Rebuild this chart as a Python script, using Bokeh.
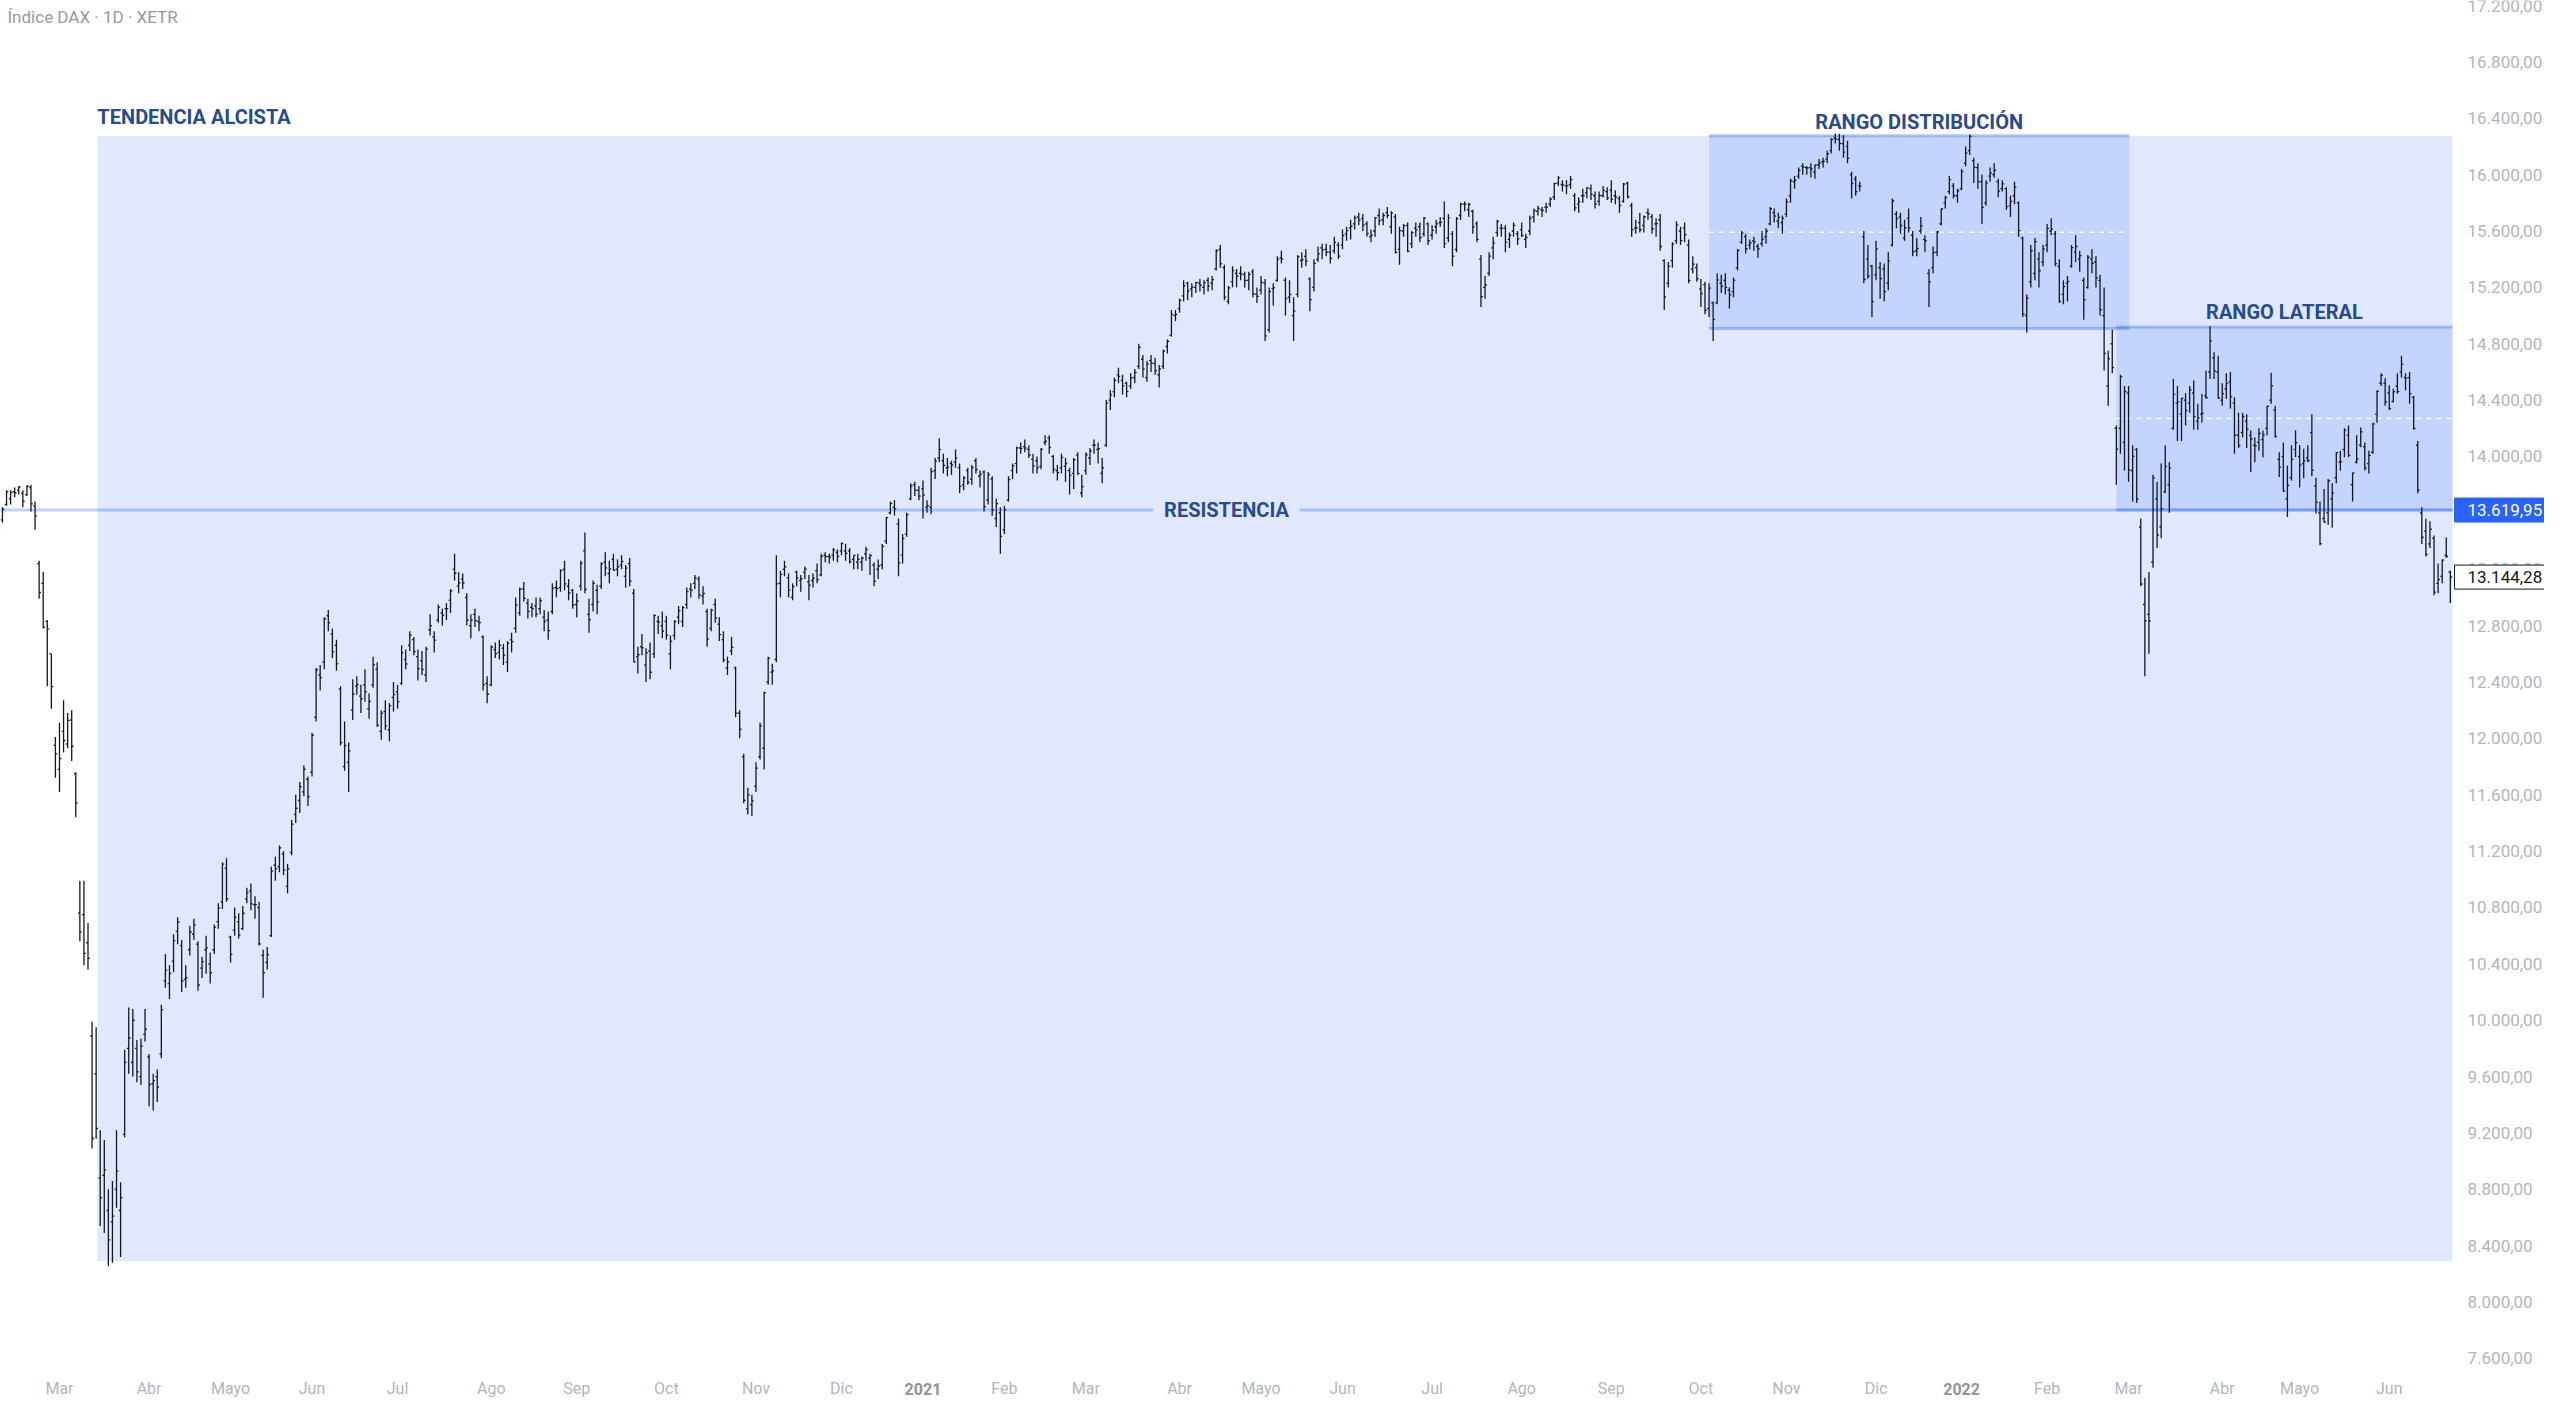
from bokeh.plotting import figure
from bokeh.models import ColumnDataSource, Range1d
from bokeh.core.properties import value
from bokeh.embed import file_html
from bokeh.resources import INLINE

# ---------------- DATA (Indice DAX, daily bars, XETR) ----------------
month_labels = ["Feb", "Mar", "Abr", "Mayo", "Jun", "Jul", "Ago", "Sep", "Oct", "Nov", "Dic",
                "2021", "Feb", "Mar", "Abr", "Mayo", "Jun", "Jul", "Ago", "Sep", "Oct", "Nov", "Dic",
                "2022", "Feb", "Mar", "Abr", "Mayo", "Jun"]
month_bars = [15, 22, 20, 20, 21, 23, 21, 22, 22, 21, 20,
              20, 20, 23, 20, 20, 22, 22, 22, 22, 21, 22, 21,
              21, 20, 23, 19, 22, 16]

open_ = [
    13470, 13550, 13660, 13700, 13750, 13760, 13740, 13730, 13780, 13650, 13240, 13100, 12830, 12600, 11950,
    11780, 12050, 11960, 12130, 11750, 10760, 10750, 10550, 9890, 9620, 8880, 8900, 8650, 8570, 8800, 8650, 9190, 9800, 9700, 9800, 9600, 9900,
    9740, 9550, 9600, 9760, 10280, 10260, 10420, 10630, 10530, 10290, 10500, 10610, 10540, 10370, 10500, 10400, 10500, 10700, 10840, 11080,
    10590, 10640, 10700, 10650, 10860, 10920, 10820, 10800, 10460, 10410, 10600, 11100, 11090, 11180, 10950, 11190, 11460, 11560, 11620, 11710,
    11760, 12150, 12450, 12540, 12870, 12740, 12660, 12350, 11800, 11830, 12200, 12370, 12300, 12380, 12210, 12380, 12490, 12050, 12190, 12060, 12290,
    12330, 12390, 12560, 12660, 12700, 12580, 12550, 12450, 12770, 12720, 12840, 12890, 12920, 12980, 13200, 13080, 13130, 13000, 12800, 12880, 12830, 12720, 12390,
    12380, 12630, 12610, 12640, 12540, 12700, 12780, 12890, 13060, 12960, 12930, 12940, 12920, 12860, 12840, 12900, 13070, 13070, 13200, 13080, 13050,
    12950, 13080, 13330, 12880, 12950, 13050, 13080, 13250, 13170, 13270, 13200, 13230, 13150, 13240, 13030, 12580, 12650, 12520, 12620, 12600, 12830, 12800,
    12830, 12600, 12730, 12860, 12830, 12950, 13060, 13100, 13130, 13010, 12900, 12780, 12950, 12810, 12700, 12500, 12620, 12500, 12180, 11870, 11500, 11530,
    11660, 11870, 11930, 12400, 12470, 12560, 13100, 13200, 13140, 13000, 13180, 13120, 13180, 13110, 13120, 13190, 13160, 13300, 13290, 13300, 13320,
    13330, 13330, 13330, 13270, 13250, 13250, 13310, 13280, 13230, 13200, 13230, 13400, 13600, 13640, 13520, 13300, 13450, 13700, 13800, 13760,
    13770, 13640, 13640, 13900, 13990, 13970, 13920, 13950, 13960, 13920, 13800, 13900, 13840, 13970, 13860, 13890, 13690, 13840, 13560, 13600,
    13480, 13690, 13900, 13950, 14060, 14070, 14050, 13980, 13970, 13930, 14100, 14130, 14000, 13900, 13920, 13930, 13900, 13880, 14010, 13740,
    13900, 13990, 14080, 14050, 13880, 14080, 14400, 14460, 14580, 14540, 14520, 14500, 14560, 14640, 14690, 14560, 14680, 14660, 14580, 14640, 14780, 14860, 15000,
    15050, 15140, 15230, 15190, 15200, 15230, 15200, 15250, 15230, 15330, 15470, 15340, 15100, 15240, 15300, 15300, 15290, 15250, 15310, 15150,
    15180, 15230, 14900, 15190, 15250, 15410, 15250, 15130, 15000, 15150, 15390, 15420, 15260, 15200, 15400, 15480, 15470, 15450, 15460, 15500,
    15500, 15580, 15620, 15650, 15700, 15690, 15650, 15560, 15600, 15710, 15680, 15730, 15630, 15700, 15470, 15600, 15640, 15510, 15620, 15630, 15580, 15650,
    15570, 15630, 15660, 15690, 15550, 15580, 15470, 15710, 15790, 15750, 15740, 15650, 15400, 15200, 15300, 15480, 15590, 15620, 15620, 15540, 15600, 15580,
    15610, 15540, 15600, 15700, 15740, 15750, 15770, 15790, 15840, 15940, 15930, 15920, 15930, 15850, 15790, 15850, 15870, 15900, 15850, 15810, 15850, 15880,
    15890, 15850, 15830, 15810, 15940, 15780, 15620, 15660, 15640, 15730, 15700, 15650, 15680, 15390, 15230, 15390, 15530, 15600, 15620, 15500, 15330, 15340,
    15190, 15220, 15050, 15090, 15090, 15230, 15250, 15180, 15170, 15340, 15520, 15560, 15500, 15530, 15490, 15510, 15560, 15650, 15730, 15670, 15660,
    15720, 15850, 15950, 15990, 16060, 16050, 16050, 16020, 16070, 16090, 16110, 16170, 16260, 16250, 16220, 16200, 16000, 15970, 15920, 15560, 15400, 15350,
    15290, 15340, 15330, 15230, 15500, 15720, 15700, 15550, 15690, 15570, 15460, 15600, 15540, 15300, 15340, 15450, 15650, 15800, 15880, 15920, 15850,
    15900, 16080, 16170, 16100, 16050, 15950, 15800, 15990, 16000, 15950, 15900, 15900, 15780, 15850, 15800, 15550, 15000, 15240, 15300, 15400, 15380,
    15500, 15600, 15580, 15350, 15150, 15230, 15350, 15450, 15400, 15250, 15200, 15400, 15380, 15250, 15000, 14500, 14800, 14200, 14200, 14100,
    14450, 13900, 14050, 13500, 12950, 12880, 13250, 13700, 13500, 13750, 13800, 14200, 14380, 14300, 14400, 14380, 14450, 14250, 14300, 14430, 14600, 14700, 14600,
    14400, 14480, 14530, 14380, 14150, 14170, 14250, 14150, 14080, 14100, 14120, 14200, 14400, 14330, 13980, 14000, 13700, 13850, 14050,
    14000, 13950, 13990, 14170, 13790, 13600, 13560, 13600, 13700, 13850, 13960, 14050, 14150, 13800, 13960, 14080, 14070, 13950, 14030, 14300, 14520, 14520,
    14450, 14390, 14500, 14600, 14560, 14560, 14420, 14080, 13600, 13470, 13380, 13420, 13100, 13150, 13300, 13180,
]

high = [
    13520, 13640, 13760, 13760, 13780, 13790, 13760, 13795, 13800, 13680, 13260, 13180, 12840, 12600, 12010,
    12110, 12270, 12180, 12200, 11760, 10990, 10990, 10690, 9990, 9950, 9220, 9150, 8800, 8860, 9220, 8850, 9790, 10090, 10080, 9860, 9870, 10080,
    9760, 9620, 9650, 10110, 10470, 10390, 10610, 10730, 10570, 10390, 10670, 10720, 10560, 10450, 10600, 10480, 10680, 10830, 11120, 11150,
    10600, 10800, 10760, 10810, 10940, 10970, 10880, 10840, 10500, 10520, 11090, 11160, 11240, 11200, 11110, 11420, 11600, 11690, 11810, 11730,
    12040, 12500, 12520, 12860, 12910, 12780, 12700, 12370, 12120, 11970, 12420, 12440, 12380, 12490, 12320, 12580, 12540, 12200, 12270, 12250, 12400,
    12380, 12660, 12630, 12760, 12720, 12630, 12620, 12650, 12880, 12760, 12950, 12920, 12960, 13060, 13310, 13180, 13170, 13030, 12880, 12920, 12870, 12730, 12440,
    12660, 12680, 12700, 12670, 12690, 12750, 13000, 13070, 13110, 12990, 12960, 13000, 13000, 12910, 12900, 13100, 13120, 13200, 13260, 13130, 13060,
    13030, 13260, 13460, 12990, 13120, 13090, 13250, 13320, 13260, 13310, 13270, 13300, 13230, 13280, 13060, 12650, 12740, 12640, 12680, 12880, 12870, 12900,
    12870, 12730, 12840, 12940, 12940, 13070, 13100, 13160, 13150, 13080, 12920, 12920, 12990, 12860, 12760, 12580, 12720, 12510, 12200, 11890, 11650, 11600,
    11830, 12110, 12330, 12580, 12530, 13300, 13190, 13260, 13170, 13100, 13190, 13160, 13220, 13160, 13170, 13240, 13310, 13320, 13310, 13350, 13340,
    13390, 13380, 13350, 13300, 13310, 13290, 13360, 13310, 13250, 13270, 13380, 13570, 13680, 13690, 13560, 13450, 13600, 13810, 13820, 13790,
    13830, 13690, 13920, 13990, 14130, 14020, 13990, 13970, 14050, 13950, 13860, 13920, 13940, 13990, 13900, 13900, 13890, 13860, 13700, 13640,
    13650, 13860, 13950, 14070, 14100, 14120, 14080, 14020, 14000, 14060, 14150, 14150, 14010, 13940, 14020, 13990, 13920, 13990, 14030, 13870,
    14030, 14060, 14120, 14100, 13990, 14400, 14470, 14560, 14630, 14580, 14530, 14590, 14620, 14800, 14720, 14680, 14720, 14700, 14650, 14760, 14830, 15040, 15040,
    15120, 15250, 15240, 15230, 15240, 15260, 15250, 15270, 15280, 15470, 15500, 15360, 15210, 15350, 15330, 15350, 15310, 15310, 15330, 15200,
    15280, 15260, 15200, 15230, 15420, 15460, 15270, 15250, 15130, 15430, 15450, 15470, 15270, 15400, 15490, 15510, 15510, 15500, 15560, 15520,
    15610, 15630, 15680, 15710, 15730, 15720, 15670, 15610, 15700, 15760, 15730, 15770, 15740, 15720, 15630, 15650, 15660, 15600, 15660, 15660, 15700, 15660,
    15640, 15680, 15700, 15810, 15720, 15600, 15700, 15800, 15810, 15800, 15750, 15670, 15430, 15280, 15450, 15560, 15680, 15650, 15640, 15590, 15660, 15600,
    15660, 15580, 15710, 15760, 15780, 15770, 15800, 15840, 15940, 15990, 15960, 15960, 15990, 15870, 15840, 15900, 15910, 15930, 15880, 15880, 15920, 15910,
    15960, 15890, 15850, 15940, 15950, 15800, 15680, 15730, 15710, 15760, 15720, 15690, 15720, 15400, 15380, 15520, 15670, 15630, 15660, 15540, 15420, 15370,
    15260, 15240, 15230, 15100, 15300, 15290, 15300, 15200, 15270, 15470, 15600, 15580, 15540, 15560, 15510, 15600, 15620, 15770, 15760, 15730, 15710,
    15830, 15970, 15990, 16050, 16080, 16060, 16080, 16070, 16110, 16120, 16170, 16260, 16290, 16290, 16280, 16240, 16020, 15990, 15950, 15600, 15500, 15360,
    15530, 15380, 15370, 15450, 15830, 15740, 15730, 15680, 15760, 15600, 15550, 15700, 15570, 15330, 15490, 15600, 15760, 15850, 15990, 15940, 15900,
    16040, 16200, 16285, 16120, 16080, 16000, 15960, 16050, 16080, 15970, 15960, 15910, 15850, 15950, 15810, 15560, 15150, 15500, 15550, 15450, 15500,
    15650, 15690, 15600, 15400, 15250, 15280, 15500, 15570, 15460, 15270, 15430, 15470, 15420, 15290, 15200, 14750, 14900, 14220, 14580, 14500,
    14500, 14080, 14060, 13560, 13140, 13180, 13870, 13820, 13950, 14080, 13960, 14550, 14500, 14415, 14450, 14500, 14540, 14375, 14445, 14610, 14925, 14740, 14715,
    14520, 14590, 14600, 14420, 14310, 14310, 14300, 14185, 14135, 14200, 14185, 14360, 14595, 14360, 14030, 14100, 13935, 14080, 14185,
    14080, 14055, 14080, 14300, 13850, 13680, 13770, 13840, 13810, 14030, 14040, 14200, 14220, 13885, 14150, 14205, 14100, 14040, 14240, 14470, 14590, 14555,
    14505, 14480, 14590, 14715, 14590, 14600, 14430, 14110, 13640, 13560, 13540, 13440, 13240, 13270, 13425, 13190,
]

low = [
    13420, 13530, 13650, 13660, 13710, 13730, 13640, 13720, 13610, 13480, 12990, 12780, 12370, 12210, 11720,
    11620, 11900, 11930, 11840, 11440, 10560, 10390, 10360, 9090, 9160, 8540, 8490, 8256, 8280, 8670, 8320, 9170, 9620, 9600, 9560, 9540, 9850,
    9390, 9360, 9420, 9730, 10230, 10150, 10340, 10540, 10200, 10230, 10460, 10570, 10210, 10300, 10330, 10260, 10470, 10650, 10790, 10840,
    10410, 10600, 10580, 10640, 10830, 10780, 10720, 10530, 10160, 10360, 10590, 10990, 11050, 11030, 10900, 11170, 11400, 11470, 11590, 11520,
    11730, 12120, 12340, 12490, 12760, 12570, 12480, 11950, 11770, 11620, 12130, 12310, 12180, 12260, 12140, 12360, 12080, 11990, 12060, 11980, 12190,
    12210, 12380, 12490, 12620, 12590, 12410, 12450, 12400, 12730, 12610, 12820, 12800, 12840, 12890, 13120, 13030, 13060, 12800, 12710, 12790, 12760, 12340, 12250,
    12370, 12570, 12560, 12520, 12470, 12610, 12750, 12870, 12970, 12850, 12860, 12860, 12880, 12760, 12700, 12880, 13000, 13040, 13050, 12980, 12920,
    12860, 13050, 13030, 12750, 12900, 12880, 13060, 13150, 13100, 13190, 13150, 13200, 13070, 13080, 12540, 12460, 12590, 12400, 12420, 12570, 12740, 12710,
    12700, 12490, 12700, 12810, 12790, 12920, 13000, 13060, 12990, 12950, 12650, 12760, 12820, 12690, 12540, 12450, 12590, 12150, 12000, 11540, 11460, 11450,
    11620, 11850, 11780, 12380, 12380, 12540, 13000, 13150, 13000, 12980, 13080, 13040, 13130, 12980, 13070, 13100, 13150, 13250, 13240, 13260, 13250,
    13300, 13260, 13240, 13200, 13200, 13190, 13260, 13160, 13080, 13130, 13200, 13380, 13590, 13580, 13150, 13240, 13430, 13690, 13720, 13690,
    13560, 13600, 13590, 13840, 13960, 13880, 13860, 13870, 13920, 13740, 13760, 13800, 13800, 13880, 13780, 13610, 13660, 13580, 13500, 13310,
    13450, 13680, 13840, 13880, 14020, 14030, 13990, 13880, 13880, 13910, 14080, 14020, 13880, 13830, 13880, 13820, 13730, 13770, 13870, 13710,
    13870, 13940, 14020, 13950, 13810, 14070, 14330, 14420, 14520, 14440, 14420, 14480, 14520, 14620, 14560, 14530, 14600, 14580, 14490, 14620, 14730, 14850, 14960,
    15020, 15100, 15110, 15130, 15160, 15170, 15150, 15170, 15180, 15320, 15340, 15110, 15080, 15200, 15200, 15250, 15200, 15180, 15130, 15090,
    15150, 14820, 14880, 15070, 15240, 15370, 15000, 15090, 14820, 15130, 15340, 15350, 15030, 15170, 15380, 15400, 15420, 15370, 15440, 15400,
    15470, 15530, 15540, 15610, 15640, 15600, 15560, 15520, 15560, 15640, 15640, 15690, 15580, 15440, 15360, 15560, 15450, 15480, 15560, 15520, 15560, 15500,
    15540, 15580, 15630, 15480, 15520, 15350, 15450, 15680, 15740, 15700, 15580, 15520, 15060, 15120, 15280, 15400, 15560, 15560, 15450, 15480, 15560, 15500,
    15560, 15480, 15570, 15660, 15710, 15700, 15730, 15770, 15820, 15920, 15880, 15860, 15900, 15740, 15730, 15800, 15830, 15820, 15760, 15780, 15840, 15820,
    15800, 15790, 15730, 15800, 15830, 15560, 15580, 15590, 15590, 15680, 15580, 15560, 15460, 15040, 15200, 15340, 15510, 15500, 15520, 15230, 15300, 15240,
    15060, 15010, 14990, 14820, 15080, 15160, 15150, 15050, 15130, 15320, 15510, 15440, 15470, 15460, 15410, 15490, 15510, 15640, 15660, 15620, 15580,
    15700, 15800, 15900, 15970, 16000, 16000, 15980, 15970, 16040, 16050, 16080, 16150, 16220, 16170, 16120, 16080, 15830, 15850, 15880, 15230, 15260, 14990,
    15250, 15120, 15100, 15180, 15490, 15620, 15580, 15530, 15590, 15420, 15420, 15580, 15450, 15060, 15300, 15420, 15640, 15760, 15860, 15830, 15800,
    15890, 16060, 16140, 15940, 15900, 15650, 15780, 15950, 15980, 15840, 15880, 15750, 15700, 15790, 15560, 14990, 14880, 15200, 15250, 15200, 15350,
    15450, 15570, 15350, 15090, 15080, 15100, 15340, 15380, 15310, 14970, 15190, 15300, 15200, 15000, 14610, 14360, 14590, 13800, 14020, 13900,
    13820, 13680, 13670, 13080, 12440, 12600, 13210, 13350, 13420, 13740, 13600, 14190, 14110, 14110, 14220, 14310, 14190, 14190, 14240, 14410, 14550, 14550, 14410,
    14360, 14410, 14340, 14020, 14060, 14135, 14060, 13890, 13960, 14040, 13995, 14150, 14375, 14135, 13855, 13750, 13570, 13830, 13995,
    13780, 13845, 13960, 13860, 13595, 13370, 13530, 13515, 13495, 13810, 13900, 13995, 13995, 13680, 13950, 14065, 13900, 13880, 14020, 14240, 14500, 14360,
    14330, 14385, 14445, 14560, 14470, 14375, 14190, 13740, 13380, 13290, 13350, 13015, 13030, 13100, 13280, 12960,
]

close = [
    13494, 13627, 13749, 13745, 13744, 13783, 13681, 13789, 13664, 13579, 13035, 12790, 12775, 12367, 11890,
    11857, 11985, 12128, 11944, 11541, 10625, 10475, 10439, 9161, 9232, 8742, 8939, 8441, 8610, 8929, 8741, 9701, 9874, 10000, 9633, 9816, 9936,
    9544, 9571, 9525, 10075, 10356, 10333, 10565, 10697, 10280, 10302, 10626, 10676, 10250, 10416, 10514, 10337, 10659, 10796, 11108, 10862,
    10467, 10730, 10606, 10759, 10905, 10825, 10820, 10542, 10337, 10465, 11058, 11075, 11223, 11065, 11074, 11391, 11504, 11657, 11781, 11587,
    12021, 12487, 12431, 12848, 12820, 12615, 12530, 11970, 11949, 11911, 12315, 12382, 12281, 12331, 12262, 12523, 12093, 12178, 12089, 12232, 12311,
    12260, 12608, 12528, 12733, 12616, 12494, 12489, 12633, 12800, 12697, 12931, 12874, 12920, 13046, 13171, 13104, 13103, 12838, 12839, 12835, 12822, 12379, 12313,
    12647, 12600, 12660, 12591, 12674, 12687, 12946, 13058, 12993, 12901, 12920, 12882, 12977, 12830, 12764, 13066, 13062, 13190, 13096, 13033, 12945,
    12974, 13243, 13057, 12842, 13100, 12968, 13237, 13209, 13202, 13194, 13218, 13255, 13208, 13116, 12542, 12594, 12643, 12606, 12469, 12871, 12825, 12761,
    12731, 12689, 12828, 12906, 12928, 13042, 13051, 13138, 13018, 13028, 12704, 12909, 12854, 12736, 12558, 12543, 12646, 12178, 12064, 11561, 11598, 11556,
    11789, 12089, 12324, 12568, 12480, 13096, 13164, 13217, 13052, 13077, 13139, 13133, 13202, 13087, 13137, 13127, 13292, 13290, 13286, 13336, 13291,
    13382, 13313, 13253, 13299, 13271, 13278, 13340, 13296, 13114, 13223, 13362, 13566, 13667, 13630, 13246, 13418, 13587, 13790, 13761, 13719,
    13727, 13651, 13892, 13968, 14050, 13937, 13925, 13940, 13989, 13788, 13848, 13816, 13922, 13907, 13874, 13644, 13871, 13620, 13666, 13433,
    13623, 13836, 13934, 14061, 14057, 14060, 14011, 13933, 13921, 14050, 14109, 14064, 13909, 13886, 13993, 13950, 13865, 13976, 13879, 13786,
    14012, 14039, 14080, 14056, 13920, 14380, 14437, 14540, 14569, 14502, 14461, 14557, 14596, 14775, 14621, 14657, 14662, 14610, 14621, 14748, 14817, 15008, 15008,
    15107, 15212, 15176, 15202, 15234, 15215, 15234, 15209, 15255, 15460, 15368, 15130, 15196, 15320, 15280, 15296, 15249, 15292, 15155, 15136,
    15236, 14856, 15171, 15197, 15400, 15400, 15120, 15150, 15032, 15417, 15397, 15386, 15113, 15370, 15438, 15465, 15450, 15406, 15520, 15421,
    15568, 15603, 15632, 15693, 15677, 15641, 15581, 15571, 15693, 15674, 15710, 15711, 15728, 15448, 15603, 15636, 15456, 15589, 15608, 15554, 15691, 15531,
    15604, 15650, 15661, 15511, 15693, 15421, 15688, 15791, 15790, 15788, 15629, 15540, 15134, 15217, 15422, 15514, 15669, 15618, 15519, 15570, 15640, 15544,
    15568, 15555, 15692, 15744, 15761, 15746, 15770, 15826, 15937, 15977, 15925, 15921, 15965, 15765, 15808, 15852, 15906, 15860, 15793, 15852, 15888, 15835,
    15824, 15841, 15781, 15932, 15843, 15610, 15623, 15609, 15701, 15722, 15616, 15652, 15490, 15132, 15349, 15507, 15644, 15532, 15574, 15249, 15365, 15261,
    15157, 15037, 15195, 14973, 15252, 15207, 15199, 15147, 15250, 15463, 15587, 15474, 15516, 15523, 15473, 15543, 15600, 15758, 15705, 15697, 15689,
    15807, 15955, 15960, 16030, 16054, 16048, 16041, 16067, 16084, 16094, 16148, 16248, 16252, 16221, 16160, 16116, 15937, 15879, 15918, 15257, 15280, 15100,
    15473, 15263, 15170, 15387, 15813, 15688, 15639, 15623, 15622, 15453, 15476, 15636, 15531, 15240, 15447, 15593, 15756, 15837, 15964, 15852, 15885,
    16021, 16152, 16271, 16052, 15948, 15768, 15942, 16010, 16031, 15883, 15934, 15773, 15810, 15912, 15603, 15011, 15123, 15460, 15524, 15318, 15471,
    15619, 15613, 15368, 15100, 15206, 15242, 15482, 15490, 15425, 15113, 15413, 15370, 15267, 15042, 14731, 14693, 14631, 14052, 14567, 14461,
    13905, 14001, 13698, 13095, 12835, 12832, 13848, 13443, 13628, 13929, 13917, 14441, 14388, 14413, 14326, 14473, 14284, 14273, 14306, 14418, 14820, 14606, 14415,
    14446, 14518, 14424, 14152, 14078, 14284, 14193, 14124, 14076, 14164, 14153, 14355, 14502, 14142, 13924, 13756, 13795, 13979, 14098,
    13940, 13970, 13971, 13902, 13675, 13381, 13534, 13828, 13740, 14027, 13964, 14186, 14008, 13883, 13982, 14175, 13919, 14008, 14231, 14462, 14576, 14388,
    14340, 14460, 14461, 14654, 14556, 14446, 14199, 13762, 13427, 13305, 13484, 13038, 13126, 13265, 13292, 13144.28,
]

price_ticks = [7600, 8000, 8400, 8800, 9200, 9600, 10000, 10400, 10800, 11200, 11600, 12000,
               12400, 12800, 13200, 13600, 14000, 14400, 14800, 15200, 15600, 16000, 16400, 16800, 17200]

resistance = 13619.95
# drawing zones: [trend, distribution, lateral]  (bar index / price)
zone_names = ["TENDENCIA ALCISTA", "RANGO DISTRIBUCIÓN", "RANGO LATERAL"]
zone_left = [24.3, 420.0, 520.0]
zone_bottom = [8290, 14908, resistance]
zone_top = [16275, 16275, 14918]

# ---------------- FIGURE ----------------
W, H = 2544, 1398
X0, X1 = 0.516, 625.12          # whole canvas (bar index)
X_END = 602.53                  # right edge of the price pane
Y0, Y1 = 7316.1, 17235.5
PX_X = W / (X1 - X0)            # pixels per bar
PX_Y = H / (Y1 - Y0)            # pixels per index point
zone_right = [X_END, 523.2, X_END]
NAVY = "#284a8e"
FONT = "Roboto"
SCALE_X = X_END + 15 / PX_X     # left edge of price-scale labels


def es_num(v):
    s = f"{v:,.2f}"
    return s.replace(",", "X").replace(".", ",").replace("X", ".")


p = figure(width=W, height=H, output_backend="svg", toolbar_location=None,
           x_range=Range1d(X0, X1), y_range=Range1d(Y0, Y1),
           x_axis_location=None, y_axis_location=None,
           min_border_left=0, min_border_right=0, min_border_top=0, min_border_bottom=0)
p.outline_line_color = None
p.background_fill_color = "white"
p.border_fill_color = "white"
p.grid.grid_line_color = None

# zones
p.quad(left=zone_left, right=zone_right, bottom=zone_bottom, top=zone_top,
       fill_color="#2962ff", fill_alpha=0.15, line_color=None)

# mid dashed lines of the two ranges
mid_y = [(zone_bottom[i] + zone_top[i]) / 2 for i in (1, 2)]
p.segment(x0=[zone_left[1], zone_left[2]], x1=[zone_right[1], zone_right[2]], y0=mid_y, y1=mid_y,
          line_color="white", line_width=1.5, line_alpha=0.9, line_dash="5 5")

# resistance line with a gap for its label
xc = (X0 + X_END) / 2
gap = 73 / PX_X
p.segment(x0=[X0 - 5, xc + gap], x1=[xc - gap, X_END], y0=[resistance] * 2, y1=[resistance] * 2,
          line_color="#2962ff", line_alpha=0.3, line_width=3)

# range borders (top/bottom)
bx0 = [zone_left[1], zone_left[1], zone_left[2], zone_left[2]]
bx1 = [zone_right[1], zone_right[1], zone_right[2], zone_right[2]]
by = [zone_top[1], zone_bottom[1], zone_top[2], zone_bottom[2]]
p.segment(x0=bx0, x1=bx1, y0=by, y1=by, line_color="#2962ff", line_alpha=0.35, line_width=3)

# OHLC bars
n = len(close)
xs = list(range(n))
src = ColumnDataSource(dict(x=xs, xl=[i - 0.45 for i in xs], xr=[i + 0.45 for i in xs],
                            o=open_, h=high, l=low, c=close))
BAR = "#131722"
p.segment(x0="x", x1="x", y0="l", y1="h", source=src, line_color=BAR, line_width=1.3)
p.segment(x0="xl", x1="x", y0="o", y1="o", source=src, line_color=BAR, line_width=1.3)
p.segment(x0="x", x1="xr", y0="c", y1="c", source=src, line_color=BAR, line_width=1.3)

# zone titles
p.text(x=[zone_left[0]], y=[zone_top[0] + 137], text=[zone_names[0]], text_font=value(FONT),
       text_font_style="bold", text_font_size="20px", text_color=NAVY,
       text_align="left", text_baseline="middle")
p.text(x=[(zone_left[1] + zone_right[1]) / 2], y=[zone_top[1] + 99], text=[zone_names[1]],
       text_font=value(FONT), text_font_style="bold", text_font_size="20px", text_color=NAVY,
       text_align="center", text_baseline="middle")
p.text(x=[(zone_left[2] + X_END) / 2], y=[zone_top[2] + 106], text=[zone_names[2]],
       text_font=value(FONT), text_font_style="bold", text_font_size="20px", text_color=NAVY,
       text_align="center", text_baseline="middle")
p.text(x=[xc], y=[resistance], text=["RESISTENCIA"], text_font=value(FONT),
       text_font_style="bold", text_font_size="20px", text_color=NAVY,
       text_align="center", text_baseline="middle")

# header
p.text(x=[X0 + 7 / PX_X], y=[17115], text=["Índice DAX · 1D · XETR"], text_font=value(FONT),
       text_font_size="17px", text_color="#9598a1", text_align="left", text_baseline="middle")

# time scale labels (first bar of every month)
starts = []
acc = 0
for c in month_bars:
    starts.append(acc)
    acc += c
TIME_Y = Y0 + 10 / PX_Y
m_x = [starts[i] for i in range(1, len(month_labels)) if not month_labels[i].isdigit()]
m_t = [month_labels[i] for i in range(1, len(month_labels)) if not month_labels[i].isdigit()]
y_x = [starts[i] for i in range(1, len(month_labels)) if month_labels[i].isdigit()]
y_t = [month_labels[i] for i in range(1, len(month_labels)) if month_labels[i].isdigit()]
p.text(x=m_x, y=[TIME_Y] * len(m_x), text=m_t, text_font=value(FONT), text_font_size="16px",
       text_color="#b2b5be", text_align="center", text_baseline="middle")
p.text(x=y_x, y=[TIME_Y] * len(y_x), text=y_t, text_font=value(FONT), text_font_size="16px",
       text_font_style="bold", text_color="#8f929b", text_align="center", text_baseline="middle")

# price scale labels
p.text(x=[SCALE_X] * len(price_ticks), y=price_ticks, text=[es_num(t) for t in price_ticks],
       text_font=value(FONT), text_font_size="17px", text_color="#b2b5be",
       text_align="left", text_baseline="middle")

# price tags on the scale (resistance level and last close)
tag_vals = [resistance, close[-1]]
tag_h = 12 / PX_Y
p.quad(left=[X_END + 2 / PX_X] * 2, right=[X1 + 1] * 2,
       bottom=[v - tag_h for v in tag_vals], top=[v + tag_h for v in tag_vals],
       fill_color=["#2962ff", "white"], line_color=["#2962ff", "#131722"], line_width=1)
p.text(x=[SCALE_X] * 2, y=tag_vals, text=[es_num(v) for v in tag_vals],
       text_font=value(FONT), text_font_size="17px", text_color=["white", "#131722"],
       text_align="left", text_baseline="middle")

open("out.html", "w").write(file_html(p, INLINE))
